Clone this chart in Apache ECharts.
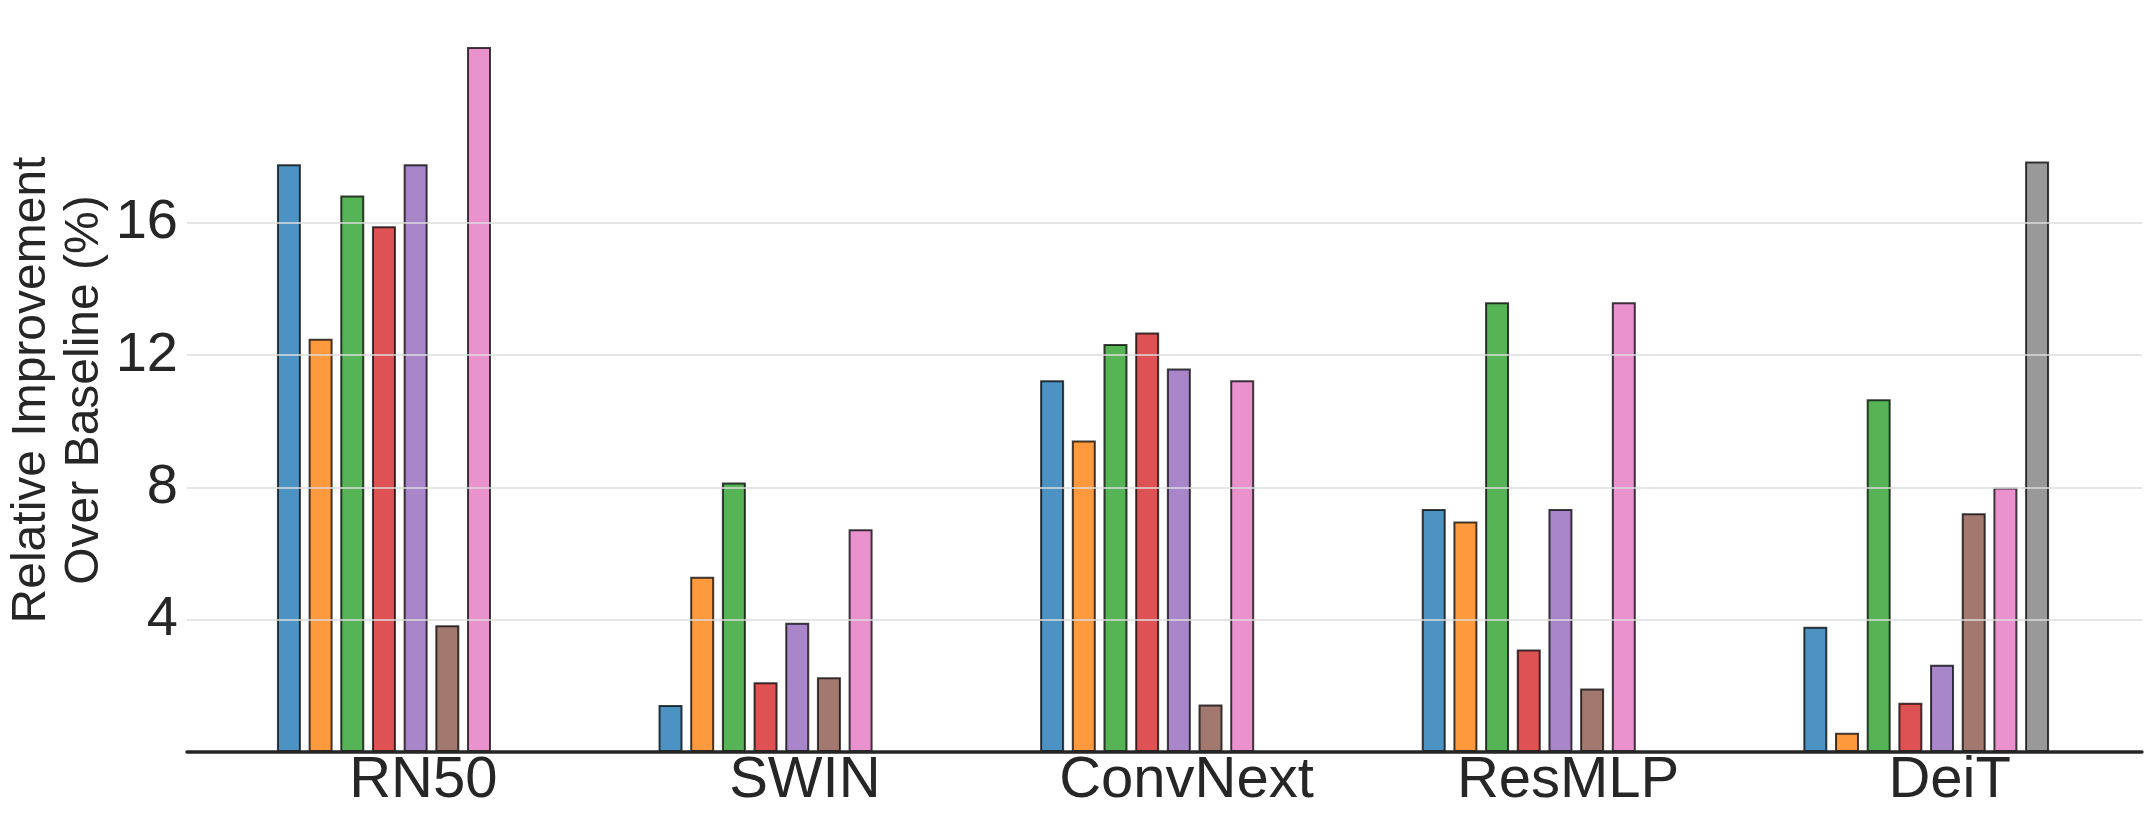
<!DOCTYPE html>
<html>
<head>
<meta charset="utf-8">
<script src="https://cdn.jsdelivr.net/npm/echarts@6/dist/echarts.min.js"></script>
<style>
  html, body { margin: 0; padding: 0; background: #fff; }
  #main { width: 2151px; height: 823px; }
</style>
</head>
<body>
<div id="main"></div>
<script>
// groups on the x axis
const categories = ['RN50', 'SWIN', 'ConvNext', 'ResMLP', 'DeiT']

// one array per bar colour (tab10 order)
const blueVals = [17.78, 1.42, 11.24, 7.35, 3.79]
const orangeVals = [12.5, 5.3, 9.42, 6.97, 0.58]
const greenVals = [16.83, 8.15, 12.34, 13.6, 10.67]
const redVals = [15.9, 2.11, 12.69, 3.1, 1.49]
const purpleVals = [17.78, 3.91, 11.6, 7.35, 2.64]
const brownVals = [3.83, 2.26, 1.44, 1.92, 7.22]
const pinkVals = [21.32, 6.74, 11.24, 13.6, 8.0]
const grayVals = [null, null, null, null, 17.86]

const yTicks = [4, 8, 12, 16]
const yMax = 22.2

const seriesVals = [blueVals, orangeVals, greenVals, redVals, purpleVals, brownVals, pinkVals, grayVals]
const colors = [
  'rgba(31,119,180,0.8)', 'rgba(255,127,14,0.8)', 'rgba(44,160,44,0.8)', 'rgba(214,39,40,0.8)',
  'rgba(148,103,189,0.8)', 'rgba(140,86,75,0.8)', 'rgba(227,119,194,0.8)', 'rgba(127,127,127,0.8)'
]

const textColor = '#262626'
const font = "'Liberation Sans', Arial, sans-serif"

const chart = echarts.init(document.getElementById('main'))

const bars = seriesVals.map((vals, i) => ({
  type: 'bar',
  xAxisIndex: 0,
  yAxisIndex: 0,
  data: vals,
  barWidth: 24,
  barGap: '32%',
  itemStyle: {
    color: colors[i],
    borderColor: 'rgba(0,0,0,0.75)',
    borderWidth: 2
  },
  z: 2
}))

chart.setOption({
  animation: false,
  backgroundColor: '#fff',
  grid: [
    // bars
    { left: 209, right: 34, top: 18, bottom: 71, outerBoundsMode: 'none' },
    // full-width baseline, y labels and grid lines
    { left: 187, right: 9, top: 18, bottom: 71, outerBoundsMode: 'none' }
  ],
  xAxis: [
    {
      type: 'category',
      gridIndex: 0,
      data: categories,
      axisLine: { show: false },
      axisTick: { show: false },
      axisLabel: {
        color: textColor,
        fontFamily: font,
        fontSize: 58,
        margin: 0,
        padding: [0, 0, 0, 47]
      }
    },
    {
      type: 'value',
      gridIndex: 1,
      min: 0,
      max: 1,
      z: 5,
      axisLine: { show: true, lineStyle: { color: textColor, width: 3.5 } },
      axisTick: { show: false },
      axisLabel: { show: false },
      splitLine: { show: false }
    }
  ],
  yAxis: [
    {
      type: 'value',
      gridIndex: 0,
      min: 0,
      max: yMax,
      show: false,
      splitLine: { show: false }
    },
    {
      type: 'value',
      gridIndex: 1,
      min: 0,
      max: yMax,
      interval: 4,
      name: 'Relative Improvement\nOver Baseline (%)',
      nameLocation: 'middle',
      nameRotate: 90,
      nameGap: 76,
      nameMoveOverlap: false,
      nameTextStyle: {
        color: textColor,
        fontFamily: font,
        fontSize: 48,
        lineHeight: 53,
        padding: [0, 10, 0, 0]
      },
      axisLine: { show: false },
      axisTick: { show: false },
      splitLine: { show: false },
      axisLabel: {
        color: textColor,
        fontFamily: font,
        fontSize: 56,
        margin: 9,
        formatter: v => (yTicks.includes(v) ? String(v) : '')
      }
    }
  ],
  series: [
    {
      // carries the horizontal grid lines
      type: 'line',
      xAxisIndex: 1,
      yAxisIndex: 1,
      data: [],
      z: 0,
      markLine: {
        silent: true,
        symbol: ['none', 'none'],
        label: { show: false },
        lineStyle: { color: '#dcdcdc', width: 1.5, type: 'solid' },
        data: yTicks.map(v => ({ yAxis: v }))
      }
    }
  ].concat(bars)
})
</script>
</body>
</html>
